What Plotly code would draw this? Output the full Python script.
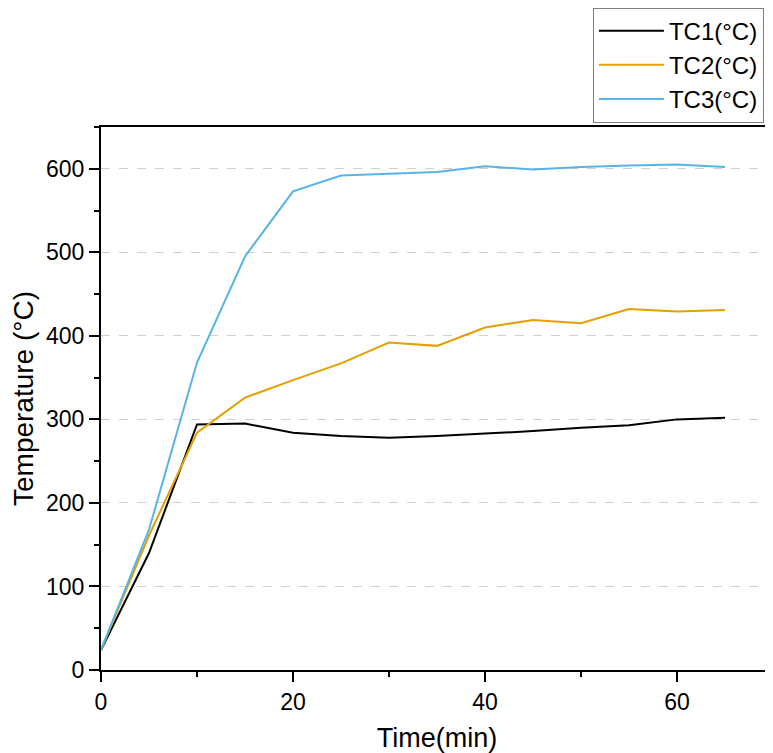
import plotly.graph_objects as go

# time in minutes, temperatures in °C
time_min = [0, 5, 10, 15, 20, 25, 30, 35, 40, 45, 50, 55, 60, 65]
tc1 = [24, 140, 294, 295, 284, 280, 278, 280, 283, 286, 290, 293, 300, 302]
tc2 = [24, 161, 284, 326, 347, 367, 392, 388, 410, 419, 415, 432, 429, 431]
tc3 = [24, 168, 368, 495, 573, 592, 594, 596, 603, 599, 602, 604, 605, 602]

series_names = ["TC1(°C)", "TC2(°C)", "TC3(°C)"]
series_colors = ["#000000", "#E69F00", "#56B4E9"]

fig = go.Figure()
for name, ys, color in zip(series_names, [tc1, tc2, tc3], series_colors):
    fig.add_trace(go.Scatter(x=time_min, y=ys, mode="lines", name=name,
                             line=dict(color=color, width=2)))

font_family = "Liberation Sans, Arial, sans-serif"

# the page body adds an 8px offset, so the figure is sized to fill the rest
fig.update_layout(
    width=765, height=745,
    margin=dict(l=93, r=0, t=119, b=83, autoexpand=False),
    plot_bgcolor="white", paper_bgcolor="white",
    font=dict(family=font_family, color="black", size=23),
    showlegend=True,
    legend=dict(x=0.732, y=1.22, xanchor="left", yanchor="top",
                bordercolor="#808080", borderwidth=1, bgcolor="white",
                font=dict(size=24), itemwidth=65, tracegroupgap=0),
    xaxis=dict(
        range=[0, 70], dtick=20, tick0=0, automargin=False,
        showline=True, linecolor="black", linewidth=2, mirror=True,
        ticks="outside", ticklen=10, tickwidth=2, tickcolor="black",
        minor=dict(dtick=10, ticks="outside", ticklen=5, tickwidth=2, tickcolor="black", showgrid=False),
        showgrid=False, zeroline=False,
        title=dict(text="Time(min)", font=dict(size=27), standoff=18),
    ),
    yaxis=dict(
        range=[0, 650], dtick=100, tick0=0, automargin=False,
        showline=True, linecolor="black", linewidth=2, mirror=False,
        ticks="outside", ticklen=10, tickwidth=2, tickcolor="black",
        minor=dict(dtick=50, ticks="outside", ticklen=5, tickwidth=2, tickcolor="black", showgrid=False),
        showgrid=True, gridcolor="#d0d0d0", griddash="dash", gridwidth=1,
        zeroline=False,
        title=dict(text="Temperature (°C)", font=dict(size=28), standoff=10),
    ),
)

fig.write_html("out.html")
